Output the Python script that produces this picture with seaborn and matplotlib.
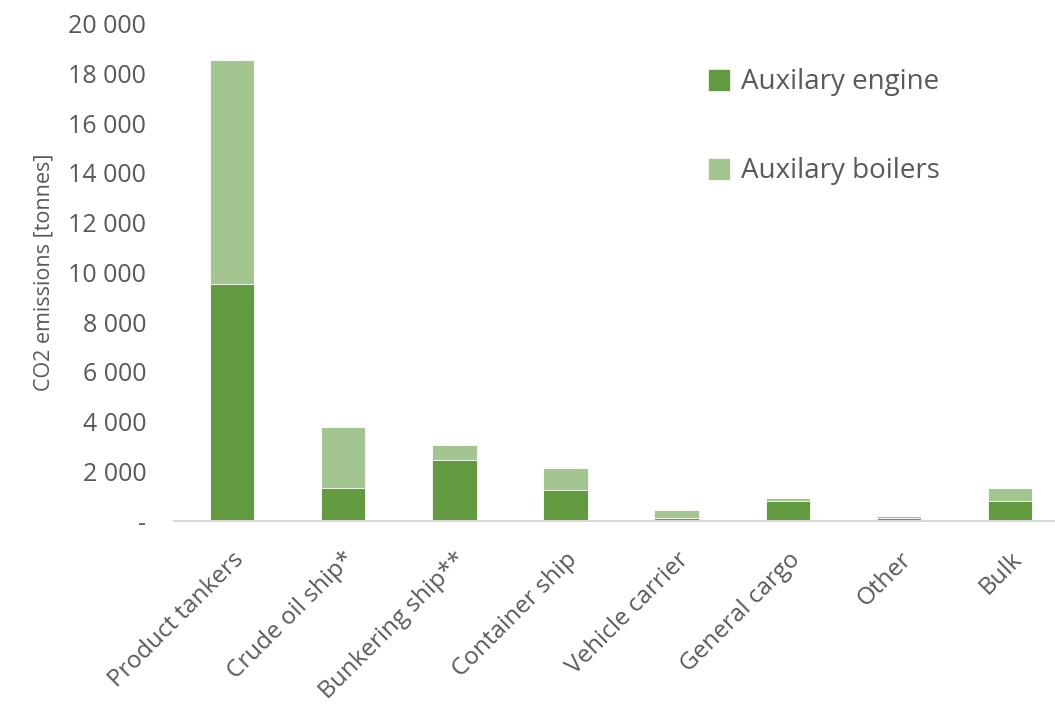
import matplotlib
matplotlib.use("Agg")
import matplotlib.pyplot as plt
import matplotlib.ticker as mticker
from matplotlib.patches import Patch
import seaborn as sns
import pandas as pd

# Data (tonnes CO2)
categories = ["Product tankers", "Crude oil ship*", "Bunkering ship**", "Container ship",
              "Vehicle carrier", "General cargo", "Other", "Bulk"]
aux_engine = [9520, 1350, 2440, 1260, 130, 830, 140, 820]
aux_boilers = [9030, 2440, 610, 870, 300, 120, 60, 530]

df = pd.DataFrame({"category": categories, "engine": aux_engine, "boilers": aux_boilers})
df["total"] = df["engine"] + df["boilers"]

dark = "#629a3f"
light = "#a3c590"
grey = "#595959"

sns.set_theme(style="white")
plt.rcParams["font.family"] = ["Open Sans", "DejaVu Sans"]

fig = plt.figure(figsize=(10.55, 7.11), dpi=100)
ax = fig.add_axes([0.165, 0.267, 0.84, 0.70])

sns.barplot(data=df, x="category", y="total", color=light, width=0.4,
            saturation=1, edgecolor="white", linewidth=0.6, ax=ax)
sns.barplot(data=df, x="category", y="engine", color=dark, width=0.4,
            saturation=1, edgecolor="white", linewidth=0.6, ax=ax)

ax.set_ylim(0, 20000)
ax.set_xlim(-0.52, 7.45)
ax.yaxis.set_major_locator(mticker.MultipleLocator(2000))
ax.yaxis.set_major_formatter(mticker.FuncFormatter(
    lambda v, p: "-" if v == 0 else f"{int(v):,}".replace(",", " ")))

for s in ["top", "right", "left"]:
    ax.spines[s].set_visible(False)
ax.spines["bottom"].set_color("#d9d9d9")
ax.spines["bottom"].set_linewidth(1.5)
ax.tick_params(axis="both", length=0, colors=grey, labelsize=18)
ax.tick_params(axis="y", pad=20)
ax.tick_params(axis="x", pad=19, labelsize=17.5)
plt.setp(ax.get_xticklabels(), rotation=45, ha="right", rotation_mode="anchor")
ax.set_xlabel("")
ax.set_ylabel("CO2 emissions [tonnes]", color=grey, fontsize=15.5, labelpad=10)

handles = [Patch(color=dark, label="Auxilary engine"), Patch(color=light, label="Auxilary boilers")]
ax.legend(handles=handles, loc="upper left", bbox_to_anchor=(0.575, 0.96), frameon=False,
          fontsize=20, labelcolor=grey, handlelength=0.75, handleheight=0.75,
          handletextpad=0.4, labelspacing=2.2)

fig.savefig("out.png", dpi=100)
